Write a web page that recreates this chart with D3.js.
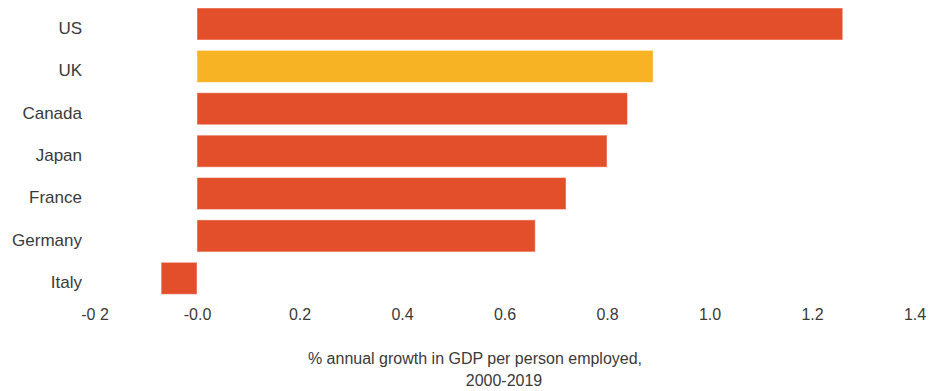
<!DOCTYPE html>
<html>
<head>
<meta charset="utf-8">
<script src="https://cdn.jsdelivr.net/npm/d3@7"></script>
<style>
  html, body { margin: 0; padding: 0; background: #fff; }
  svg text { font-family: "Liberation Sans", Arial, Helvetica, sans-serif; fill: #3a3a3a; }
</style>
</head>
<body>
<div id="chart"></div>
<script>
// 数据
const countries = ['US', 'UK', 'Canada', 'Japan', 'France', 'Germany', 'Italy'];
const growth = [1.26, 0.89, 0.84, 0.80, 0.72, 0.66, -0.07];
const highlight = ['UK'];
const tickValues = [-0.2, 0, 0.2, 0.4, 0.6, 0.8, 1.0, 1.2, 1.4];
const tickLabels = ['-0 2', '-0.0', '0.2', '0.4', '0.6', '0.8', '1.0', '1.2', '1.4'];
const titleLines = ['% annual growth in GDP per person employed,', '2000-2019'];

const w = 942,
  h = 391;

const svg = d3
  .select('#chart')
  .append('svg')
  .attr('width', w)
  .attr('height', h);

const x = d3.scaleLinear().domain([-0.2, 1.4]).range([94.5, 914.5]);

const y = d3
  .scaleBand()
  .domain(countries)
  .range([2.8, 299.5])
  .paddingInner(0.245)
  .paddingOuter(0.1225);

const rows = countries.map((c, i) => ({ name: c, value: growth[i] }));

// bars
svg
  .append('g')
  .selectAll('rect.bar')
  .data(rows)
  .enter()
  .append('rect')
  .attr('class', 'bar')
  .attr('x', (d) => x(Math.min(0, d.value)))
  .attr('width', (d) => Math.abs(x(d.value) - x(0)))
  .attr('y', (d) => y(d.name))
  .attr('height', y.bandwidth())
  .attr('fill', (d) => (highlight.indexOf(d.name) > -1 ? '#f8b324' : '#e34f2b'))
  .attr('stroke', '#fff')
  .attr('stroke-opacity', 0.45)
  .attr('stroke-width', 1);

// country labels (sit a little below bar centre in the original)
svg
  .append('g')
  .selectAll('text.name')
  .data(rows)
  .enter()
  .append('text')
  .attr('class', 'name')
  .attr('x', 82)
  .attr('y', (d) => y(d.name) + y.bandwidth() / 2 + 4)
  .attr('dy', '0.35em')
  .attr('text-anchor', 'end')
  .style('font-size', '17px')
  .text((d) => d.name);

// x axis (labels only)
const xAxis = d3
  .axisBottom(x)
  .tickValues(tickValues)
  .tickSize(0)
  .tickPadding(0)
  .tickFormat((d, i) => tickLabels[i]);

const axisG = svg
  .append('g')
  .attr('transform', 'translate(0,309)')
  .call(xAxis);
axisG.select('.domain').remove();
axisG
  .selectAll('text')
  .attr('fill', null)
  .style('font-size', '16px')
  .style('font-family', null);

// axis title
svg
  .append('g')
  .selectAll('text.title')
  .data(titleLines)
  .enter()
  .append('text')
  .attr('class', 'title')
  .attr('x', (d, i) => (i === 0 ? 475 : 504))
  .attr('y', (d, i) => 364 + i * 22)
  .attr('text-anchor', 'middle')
  .style('font-size', '16px')
  .text((d) => d);
</script>
</body>
</html>
